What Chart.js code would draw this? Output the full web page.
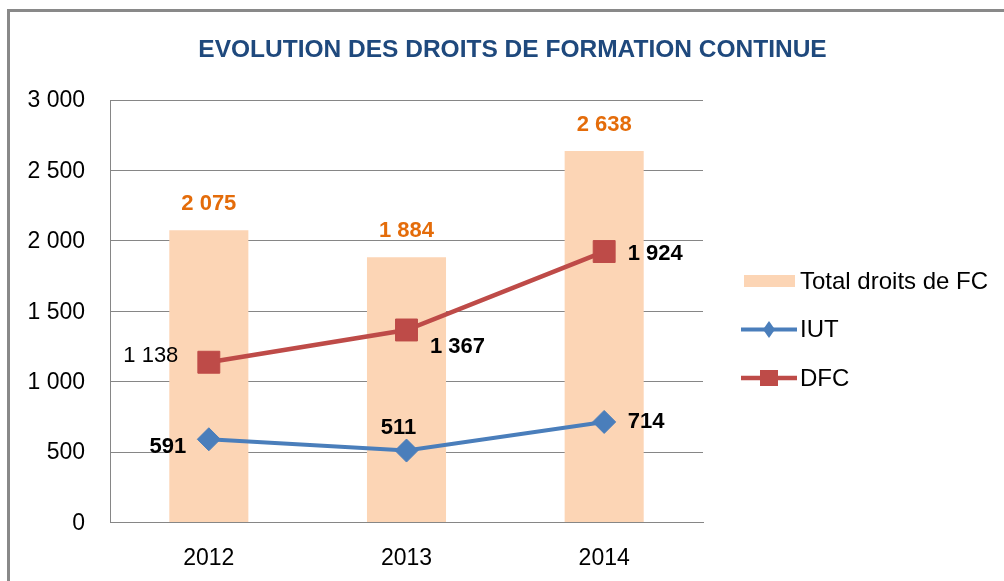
<!DOCTYPE html>
<html>
<head>
<meta charset="utf-8">
<script src="https://cdn.jsdelivr.net/npm/chart.js@4.4.1/dist/chart.umd.min.js"></script>
<style>
html, body { margin: 0; padding: 0; background: #fff; }
#wrap { width: 1004px; height: 581px; }
</style>
</head>
<body>
<div id="wrap"><canvas id="chart" width="1004" height="581"></canvas></div>
<script>
var years = ['2012', '2013', '2014'];
var totalFC = [2075, 1884, 2638];
var iut = [591, 511, 714];
var dfc = [1138, 1367, 1924];
var yTicks = [0, 500, 1000, 1500, 2000, 2500, 3000];

var FONT = '"Liberation Sans", Arial, sans-serif';
var GRID = '#868686';

function fmt(v) {
  return String(v).replace(/\B(?=(\d{3})+(?!\d))/g, ' ');
}

// where each value label sits relative to its mark
var labelPlacement = [
  [{ dx: 0, dy: -26, w: 'bold' }, { dx: 0, dy: -26, w: 'bold' }, { dx: 0, dy: -26, w: 'bold' }],
  [{ dx: -41, dy: 8, w: 'bold' }, { dx: -8, dy: -23, w: 'bold' }, { dx: 42, dy: 0, w: 'bold' }],
  [{ dx: -58, dy: -6, w: 'normal' }, { dx: 51, dy: 17, w: 'bold' }, { dx: 51, dy: 2, w: 'bold' }]
];

var decor = {
  id: 'decor',
  afterDatasetsDraw: function(chart) {
    var ctx = chart.ctx;
    ctx.save();
    ctx.textAlign = 'center';
    ctx.textBaseline = 'middle';
    chart.data.datasets.forEach(function(ds, i) {
      var meta = chart.getDatasetMeta(i);
      meta.data.forEach(function(el, j) {
        var p = labelPlacement[i][j];
        ctx.font = p.w + ' 22px ' + FONT;
        ctx.fillStyle = ds.labelColor;
        ctx.fillText(fmt(ds.data[j]), el.x + p.dx, el.y + p.dy);
      });
    });
    ctx.restore();
  },
  afterDraw: function(chart) {
    var ctx = chart.ctx;
    ctx.save();

    // outer frame (only top and left are in view)
    ctx.strokeStyle = '#898989';
    ctx.lineWidth = 3;
    ctx.beginPath();
    ctx.moveTo(8.5, 581);
    ctx.lineTo(8.5, 10.5);
    ctx.lineTo(1004, 10.5);
    ctx.stroke();

    // title
    ctx.fillStyle = '#1F497D';
    ctx.font = 'bold 24.5px ' + FONT;
    ctx.textAlign = 'center';
    ctx.textBaseline = 'middle';
    ctx.fillText('EVOLUTION DES DROITS DE FORMATION CONTINUE', 512.5, 50);

    // legend
    ctx.textAlign = 'left';
    ctx.font = '24px ' + FONT;
    chart.data.datasets.forEach(function(ds, i) {
      var y = 281 + i * 48.5;
      if (ds.type === 'bar') {
        ctx.fillStyle = ds.backgroundColor;
        ctx.fillRect(744, y - 6, 51, 12);
      } else {
        ctx.strokeStyle = ds.borderColor;
        ctx.lineWidth = ds.borderWidth;
        ctx.beginPath();
        ctx.moveTo(741, y);
        ctx.lineTo(797, y);
        ctx.stroke();
        ctx.fillStyle = ds.borderColor;
        ctx.beginPath();
        if (ds.pointStyle === 'rectRot') {
          ctx.moveTo(769, y - 8.5);
          ctx.lineTo(775, y);
          ctx.lineTo(769, y + 8.5);
          ctx.lineTo(763, y);
          ctx.closePath();
        } else {
          ctx.rect(760, y - 8, 18, 16);
        }
        ctx.fill();
      }
      ctx.fillStyle = '#000';
      ctx.fillText(ds.label, 800, y + 1);
    });

    ctx.restore();
  }
};

new Chart(document.getElementById('chart'), {
  data: {
    labels: years,
    datasets: [{
      type: 'bar',
      label: 'Total droits de FC',
      data: totalFC,
      backgroundColor: '#FCD5B5',
      labelColor: '#E46C0A',
      categoryPercentage: 1,
      barPercentage: 0.4,
      order: 3
    }, {
      type: 'line',
      label: 'IUT',
      data: iut,
      borderColor: '#4A7EBB',
      backgroundColor: '#4A7EBB',
      labelColor: '#000',
      borderWidth: 4,
      pointStyle: 'rectRot',
      pointRadius: 11.5,
      pointBorderWidth: 1,
      tension: 0,
      order: 2
    }, {
      type: 'line',
      label: 'DFC',
      data: dfc,
      borderColor: '#BE4B48',
      backgroundColor: '#BE4B48',
      labelColor: '#000',
      borderWidth: 4.5,
      pointStyle: 'rect',
      pointRadius: 15.5,
      pointBorderWidth: 1,
      tension: 0,
      order: 1
    }]
  },
  options: {
    responsive: false,
    animation: false,
    devicePixelRatio: 1,
    layout: { padding: { left: 10, right: 301, top: 100, bottom: 0 } },
    plugins: {
      legend: { display: false },
      title: { display: false },
      tooltip: { enabled: false }
    },
    scales: {
      x: {
        grid: { display: false },
        border: { display: true, color: GRID, width: 1 },
        ticks: { color: '#000', font: { family: FONT, size: 23 }, padding: 14 },
        afterFit: function(s) { s.height = 58.5; }
      },
      y: {
        min: 0,
        max: 3000,
        grid: { color: GRID, lineWidth: 1, drawTicks: false },
        border: { display: true, color: GRID, width: 1 },
        ticks: {
          color: '#000',
          font: { family: FONT, size: 23 },
          padding: 25,
          labelOffset: 1,
          callback: function(v) { return fmt(v); }
        },
        afterBuildTicks: function(s) {
          s.ticks = yTicks.map(function(v) { return { value: v }; });
        },
        afterFit: function(s) { s.width = 100; }
      }
    }
  },
  plugins: [decor]
});
</script>
</body>
</html>
